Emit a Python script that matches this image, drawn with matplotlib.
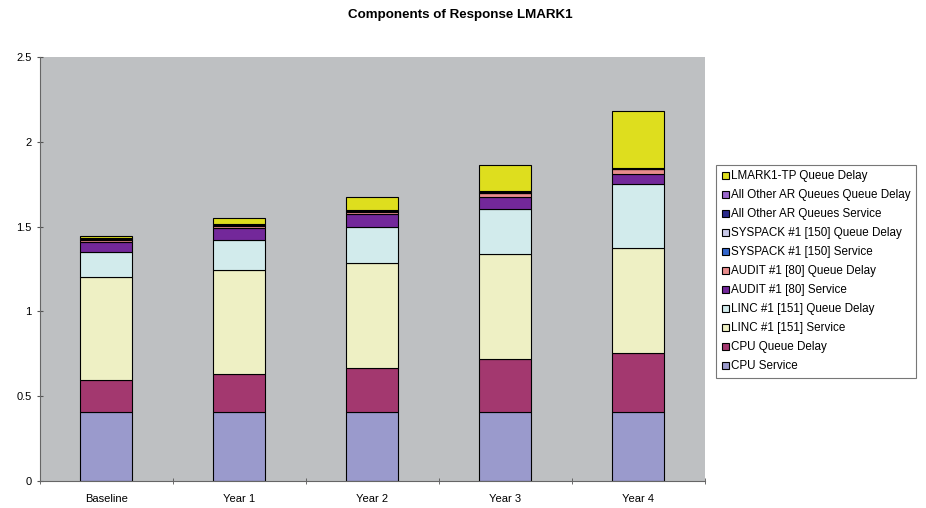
import matplotlib.pyplot as plt
import numpy as np

plt.rcParams['font.family'] = ['Liberation Sans', 'DejaVu Sans']

# categories and series (bottom to top of stack)
years = ['Baseline', 'Year 1', 'Year 2', 'Year 3', 'Year 4']

cpu_service = [0.405, 0.405, 0.407, 0.405, 0.405]
cpu_queue = [0.19, 0.225, 0.257, 0.314, 0.352]
linc_service = [0.605, 0.615, 0.62, 0.617, 0.615]
linc_queue = [0.15, 0.177, 0.216, 0.267, 0.377]
audit_service = [0.06, 0.07, 0.073, 0.072, 0.061]
audit_queue = [0.01, 0.012, 0.015, 0.022, 0.028]
syspack_service = [0.003, 0.003, 0.003, 0.003, 0.003]
syspack_queue = [0.002, 0.002, 0.002, 0.002, 0.002]
other_service = [0.003, 0.003, 0.003, 0.003, 0.003]
other_queue = [0.002, 0.002, 0.002, 0.002, 0.002]
lmark_queue = [0.015, 0.035, 0.075, 0.155, 0.335]

series = [
    ('CPU Service', cpu_service, '#9A9ACC'),
    ('CPU Queue Delay', cpu_queue, '#A3386F'),
    ('LINC #1 [151] Service', linc_service, '#EEF0C4'),
    ('LINC #1 [151] Queue Delay', linc_queue, '#D2EBEC'),
    ('AUDIT #1 [80] Service', audit_service, '#73289A'),
    ('AUDIT #1 [80] Queue Delay', audit_queue, '#E88C8C'),
    ('SYSPACK #1 [150] Service', syspack_service, '#3366CC'),
    ('SYSPACK #1 [150] Queue Delay', syspack_queue, '#C8C8E8'),
    ('All Other AR Queues Service', other_service, '#2A2A8A'),
    ('All Other AR Queues Queue Delay', other_queue, '#9966CC'),
    ('LMARK1-TP Queue Delay', lmark_queue, '#DEDE1E'),
]

fig = plt.figure(figsize=(9.26, 5.08), dpi=100)
ax = fig.add_axes([0.043, 0.053, 0.718, 0.835])
ax.set_facecolor('#BEC0C2')

x = np.arange(len(years))
bottom = np.zeros(len(years))
bars = []
for name, vals, col in series:
    b = ax.bar(x, vals, 0.39, bottom=bottom, color=col, edgecolor='black',
               linewidth=0.8, label=name)
    bars.append(b)
    bottom += np.array(vals)

ax.set_xlim(-0.5, 4.5)
ax.set_ylim(0, 2.5)
ax.set_yticks([0, 0.5, 1, 1.5, 2, 2.5])
ax.set_yticklabels(['0', '0.5', '1', '1.5', '2', '2.5'])
ax.set_xticks(x)
ax.set_xticklabels(years)
ax.set_xticks(np.arange(-0.5, 5, 1), minor=True)
ax.tick_params(axis='x', which='major', length=0, labelsize=8, pad=9)
ax.tick_params(axis='x', which='minor', length=5, color='#555555', direction='inout')
ax.tick_params(axis='y', labelsize=8, length=5, color='#555555', direction='inout')
for s in ['top', 'right']:
    ax.spines[s].set_visible(False)
for s in ['left', 'bottom']:
    ax.spines[s].set_color('#666666')
    ax.spines[s].set_linewidth(0.8)

fig.suptitle('Components of Response LMARK1', x=0.497, y=0.982,
             fontsize=9.6, fontweight='bold')

handles = bars[::-1]
leg = fig.legend(handles, [s[0] for s in series][::-1],
                 loc='upper left', bbox_to_anchor=(0.773, 0.676),
                 fontsize=8.4, frameon=True, fancybox=False,
                 handlelength=0.6, handleheight=0.6, handletextpad=0.2,
                 labelspacing=0.6, borderpad=0.5, borderaxespad=0)
leg.get_frame().set_edgecolor('#555555')
leg.get_frame().set_linewidth(0.8)

fig.savefig('out.png', dpi=100)
